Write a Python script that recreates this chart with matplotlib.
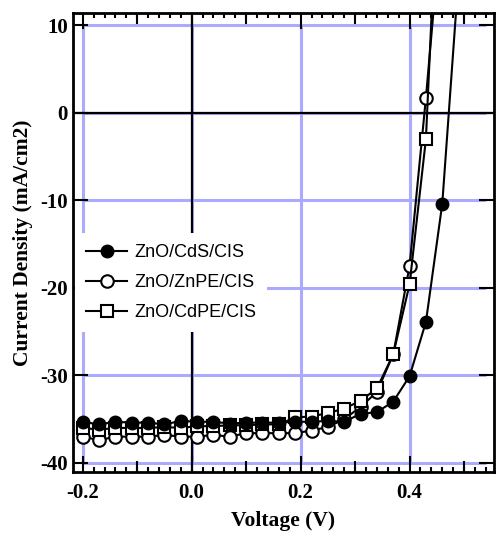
import numpy as np
import matplotlib
matplotlib.use('Agg')
import matplotlib.pyplot as plt
from matplotlib.ticker import MultipleLocator, FixedLocator

plt.rcParams['axes.unicode_minus'] = False

# voltaje (V)
voltaje = [-0.20, -0.17, -0.14, -0.11, -0.08, -0.05, -0.02, 0.01, 0.04, 0.07,
           0.10, 0.13, 0.16, 0.19, 0.22, 0.25, 0.28, 0.31, 0.34, 0.37,
           0.40, 0.43, 0.46, 0.49]

# densidad de corriente (mA/cm2) para cada celda
j_cds = [-35.3, -35.6, -35.3, -35.4, -35.4, -35.6, -35.2, -35.3, -35.3, -35.5,
         -35.4, -35.4, -35.4, -35.3, -35.3, -35.2, -35.3, -34.4, -34.2, -33.0,
         -30.1, -23.9, -10.4, 15.6]
j_znpe = [-37.0, -37.4, -37.0, -37.0, -37.0, -36.8, -37.0, -37.0, -36.8, -37.0,
          -36.6, -36.6, -36.6, -36.6, -36.3, -35.9, -35.0, -33.6, -31.9, -27.6,
          -17.5, 1.7, 23.0]
j_cdpe = [-36.0, -36.2, -36.0, -36.0, -36.0, -35.9, -36.0, -35.8, -35.8, -35.7,
          -35.7, -35.6, -35.6, -34.8, -34.7, -34.3, -33.8, -32.9, -31.5, -27.6,
          -19.6, -3.0, 38.0]

etiquetas = ['ZnO/CdS/CIS', 'ZnO/ZnPE/CIS', 'ZnO/CdPE/CIS']

serif = 'Liberation Serif'
sans = 'Liberation Sans'

fig = plt.figure(figsize=(4.96, 5.36), dpi=100)
ax = fig.add_axes([0.147, 0.120, 0.849, 0.856])
ax.set_xlim(-0.218, 0.555)
ax.set_ylim(-41.0, 11.4)

# grilla azul y lineas de cero negras
xt = [-0.2, 0.0, 0.2, 0.4]
yt = [10, 0, -10, -20, -30, -40]
ax.hlines(yt, -0.2, 0.54, colors='#aaaaff', lw=2.2, zorder=0)
ax.vlines(xt, -40, 10, colors='#aaaaff', lw=2.2, zorder=0)
ax.axhline(0, color='black', lw=1.6, zorder=1)
ax.axvline(0, color='black', lw=1.6, zorder=1)

# curvas
l2, = ax.plot(voltaje[:len(j_znpe)], j_znpe, '-o', color='black', lw=1.5,
              ms=9, mfc='white', mec='black', mew=1.5, zorder=2)
l3, = ax.plot(voltaje[:len(j_cdpe)], j_cdpe, '-s', color='black', lw=1.5,
              ms=9, mfc='white', mec='black', mew=1.5, zorder=3)
l1, = ax.plot(voltaje, j_cds, '-o', color='black', lw=1.5,
              ms=9, mfc='black', mec='black', zorder=4)

# ejes y marcas
for s in ax.spines.values():
    s.set_linewidth(2)
ax.xaxis.set_major_locator(FixedLocator(xt))
ax.xaxis.set_minor_locator(MultipleLocator(0.02))
ax.yaxis.set_major_locator(MultipleLocator(10))
ax.tick_params(axis='x', which='major', direction='in', top=True, length=11.5,
               width=1.5, pad=8)
ax.tick_params(axis='x', which='minor', direction='in', top=True, length=3.8,
               width=1.5)
ax.tick_params(axis='y', which='major', direction='in', right=True, length=10.5,
               width=1.5, pad=3.5)
ax.set_xticklabels(['-0.2', '0.0', '0.2', '0.4'])
for lab in ax.get_xticklabels() + ax.get_yticklabels():
    lab.set_fontfamily(serif)
    lab.set_fontweight('bold')
    lab.set_fontsize(15)

# marcas medianas en 0.1
for lado in ['bottom', 'top']:
    sec = ax.secondary_xaxis(lado)
    sec.set_xticks([-0.1, 0.1, 0.3, 0.5])
    sec.tick_params(direction='in', length=8, width=1.5, labelbottom=False,
                    labeltop=False)
    sec.spines[lado].set_visible(False)

ax.set_xlabel('Voltage (V)', fontfamily=serif, fontweight='bold', fontsize=15.5,
              labelpad=6)
ax.set_ylabel('Current Density (mA/cm2)', fontfamily=serif, fontweight='bold',
              fontsize=15.5, labelpad=5)

leg = ax.legend([l1, l2, l3], etiquetas, loc='upper left',
                bbox_to_anchor=(0.005, 0.52), frameon=True, fancybox=False,
                borderaxespad=0, borderpad=0.6, labelspacing=0.72,
                handlelength=2.3, handletextpad=0.4,
                prop={'family': sans, 'size': 13})
leg.get_frame().set_facecolor('white')
leg.get_frame().set_edgecolor('none')
leg.get_frame().set_alpha(1)
leg.set_zorder(5)

fig.savefig('out.png', dpi=100)
